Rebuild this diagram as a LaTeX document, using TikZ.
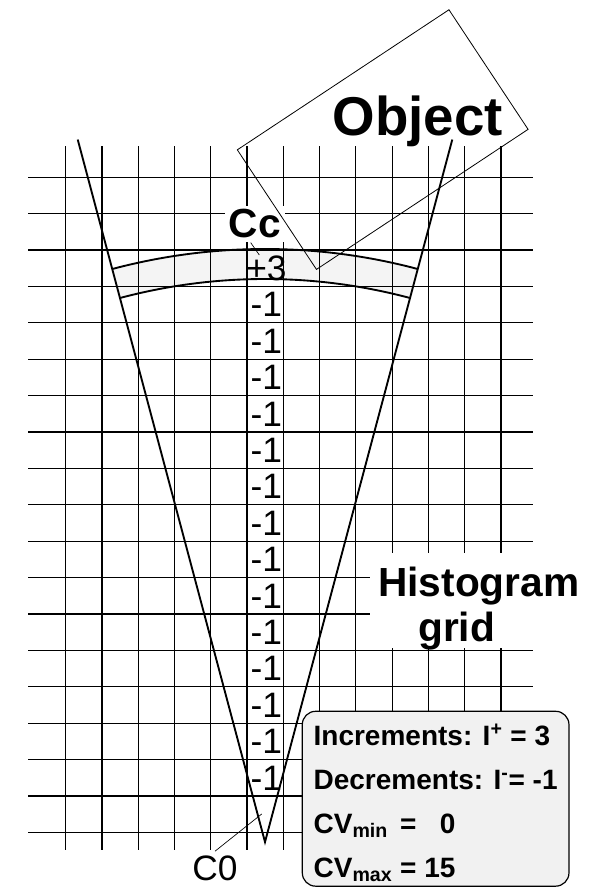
\documentclass[tikz,border=0pt]{standalone}
\usepackage{fontspec}
\setmainfont{Liberation Sans}
\usetikzlibrary{calc}
\definecolor{bandGray}{HTML}{F4F4F4}
\definecolor{boxGray}{HTML}{F1F1F1}

\begin{document}
\begin{tikzpicture}[x=0.75pt,y=0.75pt,
        gridline/.style={draw=black,line width=0.9pt},
        coneline/.style={draw=black,line width=1.4pt},
        thinline/.style={draw=black,line width=0.5pt},
        bigbold/.style={font=\fontsize{30.5}{33.75}\selectfont\bfseries,inner sep=3pt},
        cellnum/.style={font=\fontsize{26.5}{30}\selectfont,inner sep=3pt},
        infobox/.style={draw=black,line width=0.9pt,fill=boxGray,rounded corners=10pt,
          font=\fontsize{21}{32.9}\selectfont\bfseries,align=left,minimum width=200pt,
          inner xsep=4pt,inner ysep=3.5pt}]
  \useasboundingbox (0,0) rectangle (588,887);

  % sensor cone and its arc band
  \coordinate (apex) at (265,45);
  \coordinate (coneL) at ($(apex)+(104.93:727)$);
  \coordinate (coneR) at ($(apex)+(75.07:727)$);
  \fill[bandGray] ($(apex)+(75.07:563)$) arc[start angle=75.07,end angle=104.93,radius=563]
    -- ($(apex)+(104.93:593)$) arc[start angle=104.93,end angle=75.07,radius=593] -- cycle;

  % histogram grid
  \foreach \i in {0,...,12}
    \draw[gridline] (65.7+36.27*\i,37) -- (65.7+36.27*\i,741);
  \foreach \j in {0,...,18}
    \draw[gridline] (28.3,709.7-36.4*\j) -- (532.7,709.7-36.4*\j);

  \draw[coneline] ($(apex)+(75.07:563)$) arc[start angle=75.07,end angle=104.93,radius=563];
  \draw[coneline] ($(apex)+(75.07:593)$) arc[start angle=75.07,end angle=104.93,radius=593];
  \draw[coneline] (coneL) -- (apex) -- (coneR);

  % cell values
  \node[bigbold,fill=white] (cc) at (254.7,663) {Cc};
  \node[cellnum] (inc) at (266.5,618.7) {+3};
  \foreach \r in {0,...,13}
    \node[cellnum] (dec\r) at (266.3,582.3-36.4*\r) {-1};
  \node[cellnum] (c0) at (215,19) {C0};

  \node[font=\fontsize{41}{45}\selectfont\bfseries,inner sep=0pt,anchor=base east] (objlabel) at (503,751) {Object};
  \node[bigbold,fill=white,align=left,anchor=north west,inner xsep=6pt,inner ysep=4.5pt] (histo) at (370,334)
    {\rule{0pt}{28.3pt}Histogram\\\hspace*{30pt}\smash{grid}};
  \node[infobox,anchor=north west] (info) at (301.7,176.3)
    {\rule{0pt}{22.2pt}Increments: I\textsuperscript{+} = 3\\
     Decrements: I\textsuperscript{-}= -1\\
     CV\textsubscript{\rlap{min}\phantom{max}} = \phantom{1}0\\
     CV\textsubscript{max} = 15};

  % object and leaders
  \node[draw=black,line width=0.6pt,rotate=33.5,minimum width=190.35pt,minimum height=107.55pt] (objbox) at (382.7,747.4) {};
  \coordinate (ccpt) at (259.3,632);
  \coordinate (c0pt) at (261.7,73);
  \draw[thinline] ([xshift=-3pt]cc.south) -- (ccpt);
  \draw[thinline] (c0.north) -- (c0pt);
\end{tikzpicture}
\end{document}
